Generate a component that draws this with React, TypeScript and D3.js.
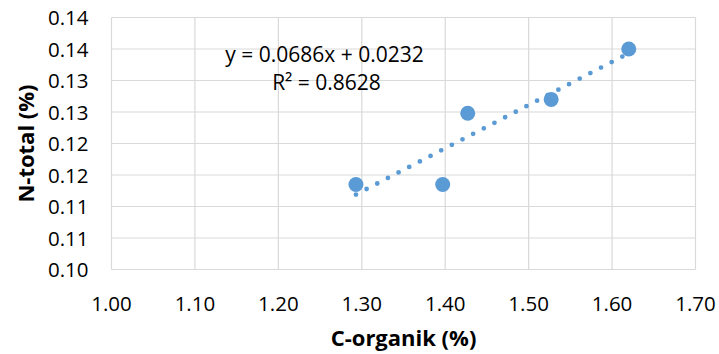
import React, { useRef, useEffect } from "react";
import * as d3 from "d3";

// C-organik (%) vs N-total (%)
const cOrganik = [1.293, 1.397, 1.427, 1.527, 1.62];
const nTotal = [0.1135, 0.1135, 0.1248, 0.127, 0.135];

const xTicks = [1.0, 1.1, 1.2, 1.3, 1.4, 1.5, 1.6, 1.7];
const yTicks = [0.1, 0.105, 0.11, 0.115, 0.12, 0.125, 0.13, 0.135, 0.14];
const yTickLabels = ["0.10", "0.11", "0.11", "0.12", "0.12", "0.13", "0.13", "0.14", "0.14"];

const slope = 0.0686;
const intercept = 0.0232;
const equationText = "y = 0.0686x + 0.0232";
const r2Text = "R² = 0.8628";

const xTitle = "C-organik (%)";
const yTitle = "N-total (%)";

export default function App() {
    const ref = useRef<SVGSVGElement>(null);

    useEffect(() => {
        const width = 719;
        const height = 354;
        const font = "'Open Sans', sans-serif";
        const grid = "#D9D9D9";
        const blue = "#5B9BD5";

        d3.select(ref.current).selectAll("*").remove();
        const svg = d3.select(ref.current)
            .attr("width", width)
            .attr("height", height);

        const x = d3.scaleLinear().domain([1.0, 1.7]).range([111.5, 695.5]);
        const y = d3.scaleLinear().domain([0.1, 0.14]).range([269.5, 17.5]);

        // gridlines
        svg.append("g").selectAll("line")
            .data(yTicks)
            .enter()
            .append("line")
            .attr("x1", x(1.0))
            .attr("x2", x(1.7))
            .attr("y1", d => y(d))
            .attr("y2", d => y(d))
            .attr("stroke", grid)
            .attr("stroke-width", 1.2);

        svg.append("g").selectAll("line")
            .data(xTicks)
            .enter()
            .append("line")
            .attr("x1", d => x(d))
            .attr("x2", d => x(d))
            .attr("y1", y(0.1))
            .attr("y2", y(0.14))
            .attr("stroke", grid)
            .attr("stroke-width", 1.2);

        // tick labels
        svg.append("g").selectAll("text")
            .data(yTicks)
            .enter()
            .append("text")
            .attr("x", 88.5)
            .attr("y", d => y(d) + 7.5)
            .attr("text-anchor", "end")
            .attr("font-family", font)
            .attr("font-size", 20.5)
            .attr("fill", "#000")
            .text((d, i) => yTickLabels[i]);

        svg.append("g").selectAll("text")
            .data(xTicks)
            .enter()
            .append("text")
            .attr("x", d => x(d))
            .attr("y", 310.5)
            .attr("text-anchor", "middle")
            .attr("font-family", font)
            .attr("font-size", 20.5)
            .attr("fill", "#000")
            .text(d => d3.format(".2f")(d));

        // dotted linear trendline
        const xMin = d3.min(cOrganik) as number;
        const xMax = d3.max(cOrganik) as number;
        svg.append("line")
            .attr("x1", x(xMin))
            .attr("y1", y(slope * xMin + intercept))
            .attr("x2", x(xMax))
            .attr("y2", y(slope * xMax + intercept))
            .attr("stroke", blue)
            .attr("stroke-width", 4.8)
            .attr("stroke-linecap", "round")
            .attr("stroke-dasharray", "0 12");

        // points
        svg.append("g").selectAll("circle")
            .data(cOrganik)
            .enter()
            .append("circle")
            .attr("cx", d => x(d))
            .attr("cy", (d, i) => y(nTotal[i]))
            .attr("r", 7.5)
            .attr("fill", blue);

        // trendline label
        svg.append("text")
            .attr("x", 324.5)
            .attr("y", 62)
            .attr("text-anchor", "middle")
            .attr("font-family", font)
            .attr("font-size", 21)
            .text(equationText);
        svg.append("text")
            .attr("x", 326.5)
            .attr("y", 90)
            .attr("text-anchor", "middle")
            .attr("font-family", font)
            .attr("font-size", 21)
            .text(r2Text);

        // axis titles
        svg.append("text")
            .attr("x", (x(1.0) + x(1.7)) / 2)
            .attr("y", 346)
            .attr("text-anchor", "middle")
            .attr("font-family", font)
            .attr("font-size", 22)
            .attr("font-weight", "bold")
            .text(xTitle);

        svg.append("text")
            .attr("transform", `translate(34,${(y(0.1) + y(0.14)) / 2}) rotate(-90)`)
            .attr("text-anchor", "middle")
            .attr("font-family", font)
            .attr("font-size", 22)
            .attr("font-weight", "bold")
            .text(yTitle);
    }, []);

    return (
        <div style={{ position: "absolute", left: 0, top: 0 }}>
            <svg ref={ref} style={{ display: "block" }}></svg>
        </div>
    );
}
